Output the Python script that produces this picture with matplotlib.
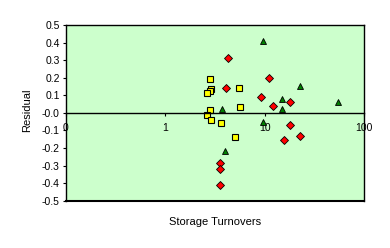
import numpy as np
import matplotlib
matplotlib.use("Agg")
import matplotlib.pyplot as plt

# residuals vs storage turnovers, three groups
sq_x = [2.80, 2.86, 2.80, 2.61, 5.48, 5.61, 2.80, 2.61, 2.86, 3.61, 5.00]
sq_y = [0.190, 0.135, 0.123, 0.112, 0.139, 0.032, 0.015, -0.014, -0.038, -0.059, -0.139]

dm_x = [4.25, 11.1, 4.08, 9.14, 18.0, 12.1, 18.0, 22.7, 15.7, 3.53, 3.53, 3.53]
dm_y = [0.310, 0.196, 0.139, 0.089, 0.061, 0.038, -0.067, -0.130, -0.153, -0.286, -0.318, -0.408]

tr_x = [9.71, 22.7, 15.0, 54.8, 15.0, 3.75, 9.71, 4.00]
tr_y = [0.409, 0.152, 0.080, 0.063, 0.023, 0.023, -0.054, -0.219]

xticks = [0.1, 1, 10, 100]
xlabels = ["0", "1", "10", "100"]
yticks = np.round(np.arange(-0.5, 0.51, 0.1), 1)

plt.rcParams['font.family'] = ['Liberation Sans', 'DejaVu Sans']

fig = plt.figure(figsize=(3.9, 2.48), dpi=100)
ax = fig.add_axes([66/390, 1-200.7/248, (364-66)/390, (200.7-25)/248])
ax.set_facecolor('#CCFFCC')

ax.plot(sq_x, sq_y, ls='none', marker='s', ms=4.6, mfc='#FFFF00', mec='black', mew=0.8)
ax.plot(dm_x, dm_y, ls='none', marker='D', ms=3.6, mfc='#FF0000', mec='black', mew=0.6)
ax.plot(tr_x, tr_y, ls='none', marker='^', ms=5, mfc='#008000', mec='black', mew=0.6)

ax.set_xscale('log')
ax.set_xlim(0.1, 100)
ax.set_ylim(-0.5, 0.5)
ax.set_xticks(xticks)
ax.set_xticklabels(xlabels)
ax.xaxis.set_minor_locator(matplotlib.ticker.NullLocator())
ax.set_yticks(yticks)
ax.set_yticklabels([f"{v:.1f}" for v in yticks])

ax.spines['bottom'].set_position(('data', 0))
for s in ax.spines.values():
    s.set_linewidth(1.0)
ax.axhline(-0.5, color='black', lw=1.5, clip_on=False)

ax.tick_params(axis='both', direction='out', length=2.5, width=0.8, labelsize=7.5, pad=2)
ax.tick_params(axis='x', pad=5)

fig.text(215/390, 1-222/248, "Storage Turnovers", ha='center', va='center', fontsize=8)
fig.text(27/390, 1-110/248, "Residual", ha='center', va='center', rotation=90, fontsize=8)

fig.savefig("out.png", dpi=100)
